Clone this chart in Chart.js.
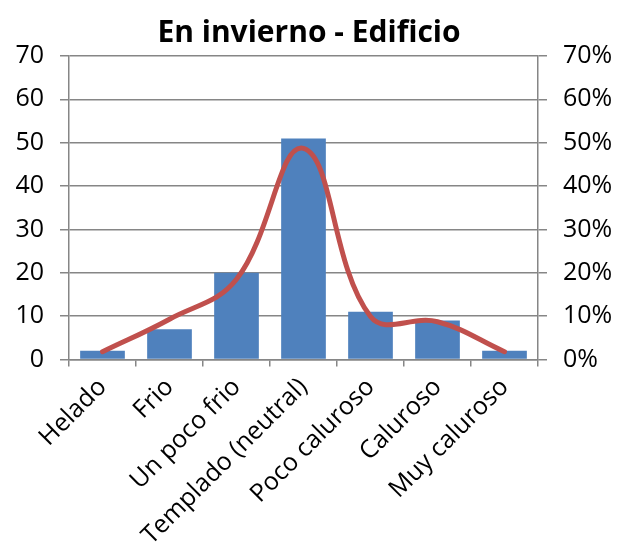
<!DOCTYPE html>
<html>
<head>
<meta charset="utf-8">
<script src="https://cdn.jsdelivr.net/npm/chart.js@4/dist/chart.umd.min.js"></script>
<style>
  html, body { margin: 0; padding: 0; background: #fff; }
  #wrap { width: 618px; height: 543px; position: relative; }
</style>
</head>
<body>
<div id="wrap"><canvas id="c" width="618" height="543"></canvas></div>
<script>
const categories = ["Helado", "Frio", "Un poco frio", "Templado (neutral)", "Poco caluroso", "Caluroso", "Muy caluroso"];
const countValues = [2, 7, 20, 51, 11, 9, 2];
const percentValues = [1.8, 9.3, 18.5, 48.7, 9.9, 8.7, 1.8];
const leftTicks = [0, 10, 20, 30, 40, 50, 60, 70];
const rightTicks = [0, 10, 20, 30, 40, 50, 60, 70];

const FONT = "'Open Sans', 'Noto Sans', sans-serif";
const GRID = '#868686';

new Chart(document.getElementById('c'), {
  data: {
    labels: categories,
    datasets: [
      {
        type: 'line',
        data: percentValues,
        yAxisID: 'y2',
        borderColor: '#C0504D',
        borderWidth: 5,
        pointRadius: 0,
        tension: 0.4,
        borderCapStyle: 'round',
        fill: false,
        order: 0
      },
      {
        type: 'bar',
        data: countValues,
        yAxisID: 'y',
        backgroundColor: '#4F81BD',
        borderWidth: 0,
        categoryPercentage: 1.0,
        barPercentage: 0.667,
        order: 1
      }
    ]
  },
  options: {
    responsive: false,
    animation: false,
    layout: { padding: { left: 0, right: 0, top: 0, bottom: 0 } },
    plugins: {
      legend: { display: false },
      tooltip: { enabled: false },
      title: {
        display: true,
        text: 'En invierno - Edificio',
        color: '#000',
        font: { family: FONT, size: 30, weight: 'bold', lineHeight: 1.2 },
        padding: { top: 15, bottom: 5 }
      }
    },
    scales: {
      x: {
        offset: true,
        grid: { offset: true, drawOnChartArea: false, drawTicks: true, tickLength: 7, color: GRID, lineWidth: 1.5 },
        border: { display: true, color: GRID, width: 1.5 },
        ticks: { color: '#000', font: { family: FONT, size: 25 }, minRotation: 45, maxRotation: 45, padding: 6, autoSkip: false },
        afterFit: (s) => { s.height = 183.5; }
      },
      y: {
        position: 'left',
        min: 0, max: 70,
        afterBuildTicks: (s) => { s.ticks = leftTicks.map(v => ({ value: v })); },
        grid: { color: GRID, lineWidth: 1.5, tickLength: 9 },
        border: { display: true, color: GRID, width: 1.5 },
        ticks: { color: '#000', font: { family: FONT, size: 25 }, padding: 16 },
        afterFit: (s) => { s.width = 69; }
      },
      y2: {
        position: 'right',
        min: 0, max: 70,
        afterBuildTicks: (s) => { s.ticks = rightTicks.map(v => ({ value: v })); },
        grid: { drawOnChartArea: false, color: GRID, lineWidth: 1.5, tickLength: 9 },
        border: { display: true, color: GRID, width: 1.5 },
        ticks: { color: '#000', font: { family: FONT, size: 25 }, padding: 16, callback: (v) => v + '%' },
        afterFit: (s) => { s.width = 80; }
      }
    }
  }
});
</script>
</body>
</html>
